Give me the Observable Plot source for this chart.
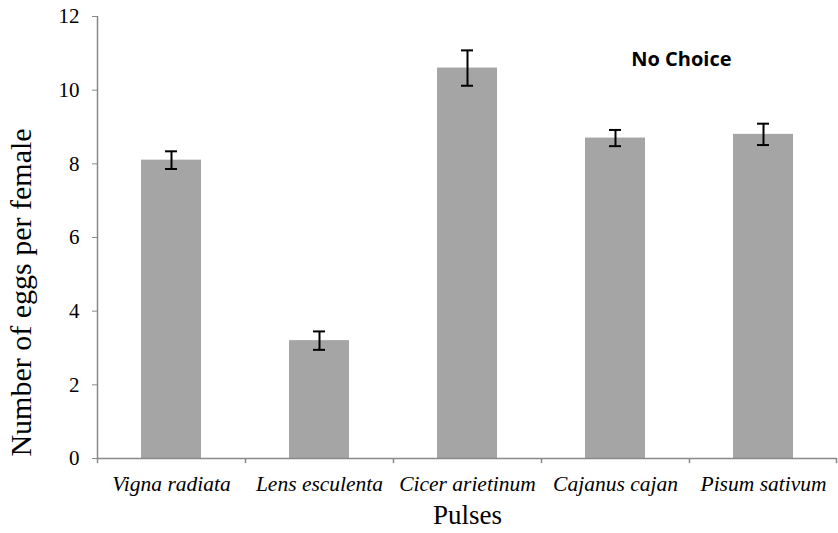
<!DOCTYPE html>
<html>
<head>
<meta charset="utf-8">
<script src="https://cdn.jsdelivr.net/npm/d3@7"></script>
<script src="https://cdn.jsdelivr.net/npm/@observablehq/plot@0.6"></script>
<style>
  html, body { margin: 0; padding: 0; background: #fff; }
</style>
</head>
<body>
<div id="chart"></div>
<script>
const categories = ["Vigna radiata", "Lens esculenta", "Cicer arietinum", "Cajanus cajan", "Pisum sativum"];
const means = [8.1, 3.2, 10.6, 8.7, 8.8];
const errors = [0.24, 0.25, 0.48, 0.22, 0.29];
const yTicks = [0, 2, 4, 6, 8, 10, 12];
const yLabel = "Number of eggs per female";
const xLabel = "Pulses";
const annotation = "No Choice";

const data = categories.map((c, i) => ({cat: c, mean: means[i], err: errors[i]}));

const W = 838, H = 533;
const mL = 97, mR = 1, mT = 16, mB = 75;
const bw = (W - mL - mR) / categories.length;
const barW = 60, capW = 12;
const axisGray = "#898989";

const chart = Plot.plot({
  width: W,
  height: H,
  marginLeft: mL,
  marginRight: mR,
  marginTop: mT,
  marginBottom: mB,
  style: {fontFamily: "Liberation Serif", background: "#fff", color: "#000"},
  x: {domain: categories, padding: 0, axis: null},
  y: {domain: [0, 12], axis: null},
  marks: [
    Plot.barY(data, {x: "cat", y: "mean", fill: "#a5a5a5", insetLeft: (bw - barW) / 2, insetRight: (bw - barW) / 2}),
    Plot.ruleX(data, {x: "cat", y1: d => d.mean - d.err, y2: d => d.mean + d.err, stroke: "#000", strokeWidth: 2}),
    Plot.tickY(data, {x: "cat", y: d => d.mean - d.err, stroke: "#000", strokeWidth: 2, insetLeft: (bw - capW) / 2, insetRight: (bw - capW) / 2}),
    Plot.tickY(data, {x: "cat", y: d => d.mean + d.err, stroke: "#000", strokeWidth: 2, insetLeft: (bw - capW) / 2, insetRight: (bw - capW) / 2}),
    Plot.ruleY([0], {stroke: axisGray, strokeWidth: 1.5}),
    Plot.ruleX([categories[0]], {y1: 0, y2: 12, dx: -bw / 2, stroke: axisGray, strokeWidth: 1.5}),
    Plot.ruleX(categories, {y1: 0, y2: -0.14, dx: -bw / 2, stroke: axisGray, strokeWidth: 1.5}),
    Plot.ruleX([categories[categories.length - 1]], {y1: 0, y2: -0.14, dx: bw / 2 - 1, stroke: axisGray, strokeWidth: 1.5}),
    Plot.axisY({ticks: yTicks, tickSize: 5, tickPadding: 13, fontSize: 21, stroke: axisGray, label: null, tickFormat: d => String(d)}),
    Plot.axisX({tickSize: 0, tickPadding: 17, fontSize: 21.5, fontStyle: "italic", label: null}),
    Plot.text([yLabel], {frameAnchor: "left", rotate: -90, dx: -76, dy: 55, fontSize: 30, textAnchor: "middle"}),
    Plot.text([xLabel], {frameAnchor: "bottom", dy: 65, fontSize: 27, textAnchor: "middle"}),
    Plot.text([annotation], {frameAnchor: "top-right", dx: -106, dy: 35, fontSize: 20, fontWeight: "bold", fontFamily: "Open Sans", textAnchor: "end"})
  ]
});
document.getElementById("chart").appendChild(chart);
</script>
</body>
</html>
